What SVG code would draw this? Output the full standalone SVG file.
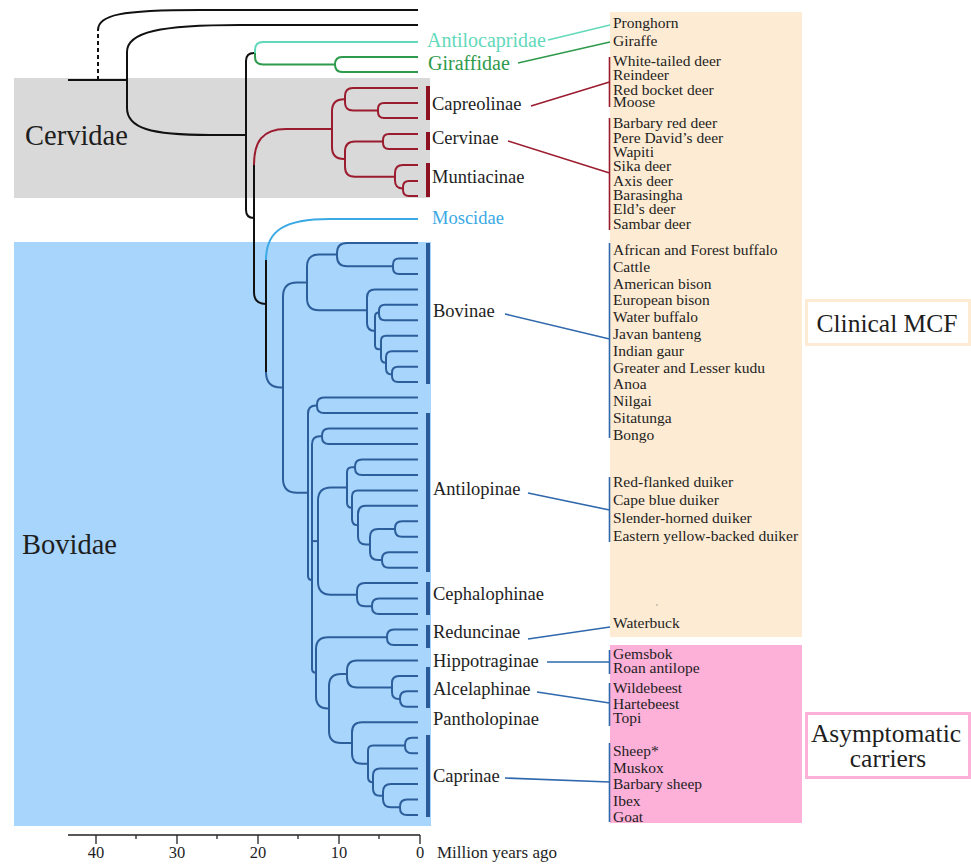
<svg xmlns="http://www.w3.org/2000/svg" width="971" height="864" viewBox="0 0 971 864">
<style>
text{font-family:"Liberation Serif","Times New Roman",serif;fill:#1e1e1e}
.sp{font-size:15.5px}
.sf{font-size:18.5px}
.big{font-size:28.5px}
.box{font-size:25.5px}
.ax{font-size:16.5px}
.t{fill:none;stroke-width:2;stroke-linecap:butt}
.k{stroke:#111}
.rd{stroke:#9b1c2e}
.bl{stroke:#2c5e9c}
.tl{stroke:#62d9bb}
.gr{stroke:#2e9a4c}
.ms{stroke:#3ba9e4}
.bar{stroke-width:4;fill:none}
.c{fill:none;stroke-width:1.6}
</style>
<rect x="14" y="78" width="416" height="120" fill="#d9d9d9"/>
<rect x="14" y="242" width="417" height="584" fill="#a8d5fb"/>
<rect x="610" y="12" width="192" height="625" fill="#fdebd3"/>
<rect x="610" y="645" width="192" height="178" fill="#fdb0d8"/>
<circle cx="657" cy="605" r="0.8" fill="#999"/>
<g id="tree">
<g id="stem" class="t k">
<path d="M68,80 H127"/>
<path d="M98,80 V29" stroke-dasharray="4,3"/>
<path d="M98,30 C98,15 120,10 200,10 H418"/>
<path d="M418,25 H240 C160,25 127,32 127,52 V108 C127,128 150,135 210,135 H246"/>
<path d="M255,53 H254 Q246,53 246,61 V210 Q246,218 254,218"/>
<path d="M254,163 V292 Q254,304 266,304"/>
<path d="M266,258 V372"/>
</g>
<g id="antilo-giraffe">
<path class="t tl" d="M255,53 V50 Q255,42 263,42 H418"/>
<path class="t gr" d="M255,53 V57 Q255,64.5 263,64.5 H335"/>
<path class="t gr" d="M418,57 H342 Q335,57 335,64.5 Q335,72 342,72 H418"/>
</g>
<g id="cervidae-tree" class="t rd">
<path d="M254,165 C254,142 262,129 286,129 H332"/>
<path d="M418,103 H384 Q378,103 378,109 V112 Q378,118 384,118 H418"/>
<path d="M418,88 H353 Q345,88 345,96 V102.5 Q345,110.5 353,110.5 H378"/>
<path d="M418,134 H389 Q383,134 383,140 V143 Q383,149 389,149 H418"/>
<path d="M418,181 H409 Q403,181 403,187 V190 Q403,196 409,196 H418"/>
<path d="M418,165 H403 Q395,165 395,173 V180.5 Q395,188.5 403,188.5"/>
<path d="M383,141.5 H355 Q345,141.5 345,151.5 V166.75 Q345,176.75 355,176.75 H395"/>
<path d="M345,99.25 H344 Q332,99.25 332,111.25 V147 Q332,159 344,159 H345"/>
</g>
<g id="moscidae-tree">
<path class="t ms" d="M266,260 C266,230 285,219 330,219 H418"/>
</g>
<g id="bovidae-tree" class="t bl">
<path d="M266,372 Q266,387.5 281,387.5 H283"/>
<path d="M418,258.5 H399 Q393,258.5 393,264.5 V267.9 Q393,273.9 399,273.9 H418"/>
<path d="M418,243 H347 Q337,243 337,253 V256.2 Q337,266.2 347,266.2 H393"/>
<path d="M418,304.8 H385 Q379,304.8 379,310.8 V314.3 Q379,320.3 385,320.3 H418"/>
<path d="M418,366.7 H398 Q392,366.7 392,372.7 V376.1 Q392,382.1 398,382.1 H418"/>
<path d="M418,351.2 H392 Q386,351.2 386,357.2 V368.4 Q386,374.4 392,374.4"/>
<path d="M418,335.8 H386 Q381,335.8 381,340.8 V357.8 Q381,362.8 386,362.8"/>
<path d="M379,312.6 Q375,312.6 375,316.6 V345.3 Q375,349.3 379,349.3 H381"/>
<path d="M418,289.4 H375 Q367,289.4 367,297.4 V323 Q367,331 375,331"/>
<path d="M337,254.6 H319 Q307,254.6 307,266.6 V298.2 Q307,310.2 319,310.2 H367"/>
<path d="M307,282.4 H297 Q283,282.4 283,296.4 V478.7 Q283,492.7 297,492.7 H308"/>
<path d="M418,397.6 H324 Q317,397.6 317,404.6 V406.1 Q317,413.1 324,413.1 H418"/>
<path d="M317,405.4 H316 Q308,405.4 308,413.4 V576 Q308,580 312,580"/>
<path d="M418,428.5 H329 Q322,428.5 322,435.5 V437 Q322,444 329,444 H418"/>
<path d="M322,436.3 H320 Q312,436.3 312,444.3 V668.8 Q312,672.8 316,672.8"/>
<path d="M312,541.1 H318"/>
<path d="M418,459.4 H362 Q355,459.4 355,466.4 V467.9 Q355,474.9 362,474.9 H418"/>
<path d="M418,521.3 H402 Q395,521.3 395,528.3 V529.7 Q395,536.7 402,536.7 H418"/>
<path d="M418,552.2 H389 Q382,552.2 382,559.2 V560.7 Q382,567.7 389,567.7 H418"/>
<path d="M395,529 H378 Q370,529 370,537 V552 Q370,560 378,560 H382"/>
<path d="M418,505.8 H366 Q358,505.8 358,513.8 V536.5 Q358,544.5 366,544.5 H370"/>
<path d="M418,490.4 H358 Q352,490.4 352,496.4 V519.2 Q352,525.2 358,525.2"/>
<path d="M355,467.2 H352 Q347,467.2 347,472.2 V502.8 Q347,507.8 352,507.8"/>
<path d="M418,598.6 H379 Q372,598.6 372,605.6 V607 Q372,614 379,614 H418"/>
<path d="M418,583.1 H365 Q357,583.1 357,591.1 V598.3 Q357,606.3 365,606.3 H372"/>
<path d="M347,487.5 H331 Q318,487.5 318,500.5 V581.7 Q318,594.7 331,594.7 H357"/>
<path d="M418,629.5 H394 Q387,629.5 387,636.5 V638 Q387,645 394,645 H418"/>
<path d="M418,691.3 H407 Q400,691.3 400,698.3 V699.8 Q400,706.8 407,706.8 H418"/>
<path d="M418,675.9 H399 Q392,675.9 392,682.9 V692 Q392,699 399,699 H400"/>
<path d="M418,660.4 H357 Q347,660.4 347,670.4 V677.5 Q347,687.5 357,687.5 H392"/>
<path d="M418,799.6 H407 Q400,799.6 400,806.6 V808 Q400,815 407,815 H418"/>
<path d="M418,784.1 H391 Q383,784.1 383,792.1 V799.3 Q383,807.3 391,807.3 H400"/>
<path d="M418,768.6 H380 Q373,768.6 373,775.6 V788.7 Q373,795.7 380,795.7 H383"/>
<path d="M418,737.7 H412 Q405,737.7 405,744.7 V746.2 Q405,753.2 412,753.2 H418"/>
<path d="M405,745.5 H373 Q368,745.5 368,750.5 V777.2 Q368,782.2 373,782.2"/>
<path d="M418,722.3 H362 Q352,722.3 352,732.3 V753.8 Q352,763.8 362,763.8 H368"/>
<path d="M347,674 H341 Q329,674 329,686 V731 Q329,743 341,743 H352"/>
<path d="M387,637.2 H328 Q316,637.2 316,649.2 V696.5 Q316,708.5 328,708.5 H329"/>
</g>
</g>
<g id="bars">
<path class="bar" stroke="#8c1123" d="M428,86 V120 M428,132 V150 M428,163 V197"/>
<path class="bar" stroke="#2a5a98" d="M428,243 V384 M428,413 V572 M428,582 V615 M428,625 V648 M428,667 V708 M428,735 V817"/>
</g>
<g id="connectors">
<path class="c" stroke="#62d9bb" d="M548,40 L610,25"/>
<path class="c" stroke="#2e9a4c" d="M518,63 L610,42"/>
<path class="c" stroke="#9b1c2e" d="M531,106 L609.5,82 M508,141 L609.5,173 M609.5,57 V107 M609.5,118 V230"/>
<path class="c" stroke="#2f68ad" d="M505,314 L609.5,339 M528,493 L609.5,510 M528,639 L610,627 M547,662 H609.5 M537,692 L609.5,703 M505,778 L609.5,782 M609.5,243 V438 M609.5,477 V542 M609.5,650 V674 M609.5,683 V726 M609.5,743 V822"/>
</g>
<g id="family-labels">
<text id="lbl-cervidae" class="big" x="25" y="145">Cervidae</text>
<text id="lbl-bovidae" class="big" x="22" y="554">Bovidae</text>
<text id="lbl-antilocapridae" x="427" y="47" font-size="20" style="fill:#62d9bb">Antilocapridae</text>
<text id="lbl-giraffidae" x="428" y="70" font-size="20" style="fill:#2e9a4c">Giraffidae</text>
<text id="lbl-moscidae" class="sf" x="432" y="224" style="fill:#3ba9e4">Moscidae</text>
</g>
<g id="subfamily-labels" class="sf">
<text x="432" y="110">Capreolinae</text>
<text x="432" y="144">Cervinae</text>
<text x="432" y="183">Muntiacinae</text>
<text x="433" y="317">Bovinae</text>
<text x="433" y="495">Antilopinae</text>
<text x="433" y="600">Cephalophinae</text>
<text x="433" y="638">Reduncinae</text>
<text x="433" y="667">Hippotraginae</text>
<text x="433" y="695">Alcelaphinae</text>
<text x="433" y="725">Pantholopinae</text>
<text x="433" y="782">Caprinae</text>
</g>
<g id="species" class="sp">
<text x="613" y="28">Pronghorn</text>
<text x="613" y="46">Giraffe</text>
<text x="613" y="66">White-tailed deer</text>
<text x="613" y="80">Reindeer</text>
<text x="613" y="94.5">Red bocket deer</text>
<text x="613" y="107">Moose</text>
<text x="613" y="128">Barbary red deer</text>
<text x="613" y="142.5">Pere David’s deer</text>
<text x="613" y="157">Wapiti</text>
<text x="613" y="171">Sika deer</text>
<text x="613" y="185.5">Axis deer</text>
<text x="613" y="200">Barasingha</text>
<text x="613" y="214">Eld’s deer</text>
<text x="613" y="228.5">Sambar deer</text>
<text x="613" y="255">African and Forest buffalo</text>
<text x="613" y="271.8">Cattle</text>
<text x="613" y="288.6">American bison</text>
<text x="613" y="305.4">European bison</text>
<text x="613" y="322.2">Water buffalo</text>
<text x="613" y="339">Javan banteng</text>
<text x="613" y="355.8">Indian gaur</text>
<text x="613" y="372.6">Greater and Lesser kudu</text>
<text x="613" y="389.4">Anoa</text>
<text x="613" y="406.2">Nilgai</text>
<text x="613" y="423">Sitatunga</text>
<text x="613" y="439.8">Bongo</text>
<text x="613" y="487">Red-flanked duiker</text>
<text x="613" y="504.5">Cape blue duiker</text>
<text x="613" y="523">Slender-horned duiker</text>
<text x="613" y="541">Eastern yellow-backed duiker</text>
<text x="613" y="628">Waterbuck</text>
<text x="613" y="659">Gemsbok</text>
<text x="613" y="673">Roan antilope</text>
<text x="613" y="693">Wildebeest</text>
<text x="613" y="709">Hartebeest</text>
<text x="613" y="723">Topi</text>
<text x="613" y="756">Sheep*</text>
<text x="613" y="772.5">Muskox</text>
<text x="613" y="788.5">Barbary sheep</text>
<text x="613" y="805.5">Ibex</text>
<text x="613" y="822">Goat</text>
</g>
<g id="clinical-mcf">
<rect x="806.5" y="300.5" width="163" height="44" fill="#fff" stroke="#fdebd3" stroke-width="3"/>
<text class="box" x="887" y="332" text-anchor="middle">Clinical MCF</text>
</g>
<g id="asymptomatic-carriers">
<rect x="806.5" y="713.5" width="163" height="64" fill="#fff" stroke="#fdb0d8" stroke-width="3"/>
<text class="box" x="886" y="742" text-anchor="middle">Asymptomatic</text>
<text class="box" x="888" y="767" text-anchor="middle">carriers</text>
</g>
<g id="axis">
<path d="M68,835 H420 M96,835 V844 M177,835 V844 M258,835 V844 M339,835 V844 M420,835 V844 M136,835 V839 M217,835 V839 M298,835 V839 M379,835 V839" stroke="#222" stroke-width="1.3" fill="none"/>
<g class="ax" text-anchor="middle">
<text x="96" y="858">40</text>
<text x="177" y="858">30</text>
<text x="258" y="858">20</text>
<text x="339" y="858">10</text>
<text x="420" y="858">0</text>
</g>
<text x="437" y="858" font-size="17">Million years ago</text>
</g>
</svg>
